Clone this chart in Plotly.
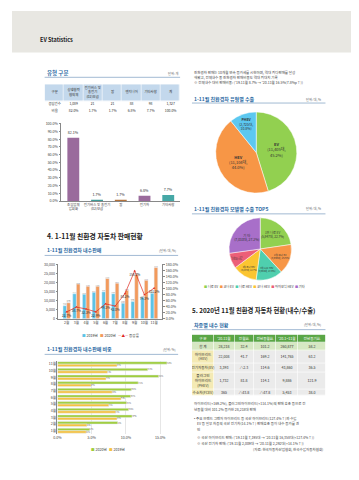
import plotly.graph_objects as go

W, H = 359, 480
FONT = "Noto Sans CJK KR"
BLUE = "#2b6aa3"
GREY = "#666666"


def X(p):
    return p / W


def Y(p):
    return 1 - p / H


# ---------------- data ----------------
type_cols = ["구분", "상생협력<br>협의체", "전기버스 및<br>충전기<br>(02)보급", "팜", "엔지니어", "기타사항", "계"]
type_names = ["조립업체<br>입회화", "전기버스 및 충전기<br>(02)보급", "팜", "전기차", "기타사항"]
type_rows = ["응답건수", "비율"]
type_counts = ["1,089", "21", "21", "88", "98", "1,327"]
type_share = [82.1, 1.7, 1.7, 6.8, 7.7]
type_share_txt = ["82.0%", "1.7%", "1.7%", "6.8%", "7.7%", "100.0%"]

months10 = ["2월", "3월", "4월", "5월", "6월", "7월", "8월", "9월", "10월", "11월"]
sales_2019 = [7169, 13771, 13500, 14552, 14850, 13800, 8570, 9448, 11800, 14025]
sales_2020 = [8799, 19100, 17860, 17881, 22170, 19602, 15700, 24400, 21158, 28218]
growth = [22.7, 38.7, 32.3, 22.9, 49.3, 42.0, 83.2, 158.1, 79.3, 101.2]

months11 = ["11월", "10월", "9월", "8월", "7월", "6월", "5월", "4월", "3월", "2월", "1월"]
share_2020 = [16.0, 13.2, 14.8, 11.8, 10.8, 10.7, 10.1, 10.4, 10.9, 8.8, 4.7]
share_2019 = [8.7, 7.3, 7.1, 4.9, 8.0, 9.3, 7.5, 8.5, 8.7, 4.3, 4.2]

export_types = ["EV", "HEV", "PHEV"]
export_units = [11405, 11104, 2725]
export_share = [45.2, 44.0, 10.8]

top_models = ["니로 EV", "코나 EV", "니로 HEV", "코나 HEV", "아이오닉 HEV", "기타"]
top_rank = ["1위 니로 EV", "2위 코나 EV", "3위 니로 HEV", "4위 코나 HEV", "5위 아이오닉 HEV", "기 타"]
top_units = [5847, 3993, 3598, 3287, 2060, 7010]
top_share = [22.7, 15.5, 13.9, 12.7, 8.0, 27.2]

tbl_head = ["구 분", "'20.11월", "전월比", "전년동월比", "'20.1~11월", "전년동기比"]
tbl_kind = ["합 계", "하이브리드<br>(HEV)", "전기자동차(EV)", "플러그인<br>하이브리드<br>(PHEV)", "수소차(FCEV)"]
tbl_month = ["28,218", "22,008", "3,393", "1,732", "365"]
tbl_mom = ["32.4", "41.7", "△2.3", "81.8", "△43.8"]
tbl_yoy = ["101.2", "169.2", "114.6", "114.1", "△47.8"]
tbl_ytd = ["260,877", "141,765", "43,860", "9,886", "5,453"]
tbl_ytd_yoy = ["58.2", "63.2", "36.5", "121.9", "38.0"]

# colors
C_TYPE = ["#9a6b9c", "#3f9b97", "#b3733c", "#9a6b9c", "#46a8a6"]
C19 = "#5cc3e6"
C20 = "#f29a5c"
C_LINE = "#e0281e"
C_G = "#9fcd3c"
C_Y = "#f5c242"
C_EXP = ["#92d050", "#f79646", "#5cc8f0"]
C_TOP = ["#92d050", "#f79646", "#4fcfae", "#fbc531", "#ec5f78", "#a86fc9"]

# layout geometry (pixels) for the tables
T1_COLS = 7
T1_ROWH = [0, 17, 24, 31]
T2_COLW = [0, 22, 43, 63, 85, 107, 135]
T2_HEADH = [0, 8]
T2_ROWH = [8, 16, 29, 38, 55, 62]

fig = go.Figure()

# ---------- type bar chart ----------
fig.add_trace(go.Bar(
    x=type_names, y=type_share, marker=dict(color=C_TYPE, line=dict(width=0)),
    text=[f"{v:.1f}%" for v in type_share], textposition="outside",
    textfont=dict(size=3.6, color="#333"), cliponaxis=False, width=0.5,
    showlegend=False, xaxis="x", yaxis="y"))

# ---------- combo chart ----------
fig.add_trace(go.Bar(
    x=months10, y=sales_2019, name="2019년", marker_color=C19,
    text=[f"{v:,}" for v in sales_2019], textposition="outside",
    textfont=dict(size=3.2, color="#333"), cliponaxis=False, showlegend=False,
    xaxis="x2", yaxis="y2"))
fig.add_trace(go.Bar(
    x=months10, y=sales_2020, name="2020년", marker_color=C20,
    text=[f"{v:,}" for v in sales_2020], textposition="outside",
    textfont=dict(size=3.2, color="#333"), cliponaxis=False, showlegend=False,
    xaxis="x2", yaxis="y2"))
fig.add_trace(go.Scatter(
    x=months10, y=growth, name="증감률", mode="lines+markers+text",
    line=dict(color=C_LINE, width=0.7), marker=dict(size=2.2, color=C_LINE, symbol="triangle-up"),
    text=[f"{v:.1f}%" for v in growth], textposition="bottom center",
    textfont=dict(size=3.2, color="#333"), cliponaxis=False, showlegend=False,
    xaxis="x2", yaxis="y3"))

# ---------- share horizontal bars ----------
fig.add_trace(go.Bar(
    y=months11, x=share_2020, name="2020년", orientation="h", marker_color=C_G,
    text=[f"{v:.1f}%" for v in share_2020], textposition="outside",
    textfont=dict(size=3.2, color="#333"), cliponaxis=False, showlegend=False,
    xaxis="x4", yaxis="y4"))
fig.add_trace(go.Bar(
    y=months11, x=share_2019, name="2019년", orientation="h", marker_color=C_Y,
    text=[f"{v:.1f}%" for v in share_2019], textposition="outside",
    textfont=dict(size=3.2, color="#333"), cliponaxis=False, showlegend=False,
    xaxis="x4", yaxis="y4"))

# ---------- export pie ----------
fig.add_trace(go.Pie(
    labels=export_types, values=export_share, sort=False, direction="clockwise", rotation=0,
    marker=dict(colors=C_EXP, line=dict(color="white", width=0.5)),
    text=[f"<b>{t}</b><br>({u:,}대,<br>{s:.1f}%)" for t, u, s in zip(export_types, export_units, export_share)],
    textinfo="text", textposition="inside", insidetextorientation="horizontal",
    textfont=dict(size=4, color="#333"), showlegend=False, hoverinfo="skip",
    domain=dict(x=[X(206), X(288)], y=[Y(184), Y(102)])))

# ---------- top5 pie ----------
fig.add_trace(go.Pie(
    labels=top_models, values=top_share, sort=False, direction="clockwise", rotation=0,
    marker=dict(colors=C_TOP, line=dict(color="white", width=0.5)),
    text=[f"{r}<br>({u:,}대, {s:.1f}%)" for r, u, s in zip(top_rank, top_units, top_share)],
    textinfo="text", textposition="inside", insidetextorientation="horizontal",
    textfont=dict(size=3.6, color="#333"), hoverinfo="skip", showlegend=False,
    domain=dict(x=[X(205), X(297)], y=[Y(272), Y(209)])))

# ---------- table 1 (heatmap cells) ----------
t1_text = [type_cols,
           [type_rows[0]] + type_counts,
           [type_rows[1]] + type_share_txt]
fig.add_trace(go.Heatmap(
    x=list(range(T1_COLS + 1)), y=T1_ROWH,
    z=[[0] * T1_COLS, [1] * T1_COLS, [1] * T1_COLS],
    text=t1_text, texttemplate="%{text}", textfont=dict(size=3.4, color="#333", family=FONT),
    colorscale=[[0, "#c3d8ec"], [0.5, "#c3d8ec"], [0.5, "#ffffff"], [1, "#ffffff"]],
    zmin=0, zmax=1, showscale=False, xgap=0.6, ygap=0.6, hoverinfo="skip",
    xaxis="x5", yaxis="y5"))

# ---------- table 2 (heatmap cells) ----------
fig.add_trace(go.Heatmap(
    x=T2_COLW, y=T2_HEADH, z=[[0] * 6], text=[tbl_head], texttemplate="%{text}",
    textfont=dict(size=3.6, color="white", family=FONT),
    colorscale=[[0, "#5aa646"], [1, "#5aa646"]], zmin=0, zmax=1, showscale=False,
    xgap=0.6, ygap=0.6, hoverinfo="skip", xaxis="x6", yaxis="y6"))
body_text = [list(r) for r in zip(tbl_kind, tbl_month, tbl_mom, tbl_yoy, tbl_ytd, tbl_ytd_yoy)]
body_z = [[0] * 6] + [[1] + [2] * 5 for _ in range(len(tbl_kind) - 1)]
fig.add_trace(go.Heatmap(
    x=T2_COLW, y=T2_ROWH, z=body_z, text=body_text, texttemplate="%{text}",
    textfont=dict(size=3.6, color="#333", family=FONT),
    colorscale=[[0, "#d6e8c3"], [0.33, "#d6e8c3"], [0.34, "#f4eab4"], [0.66, "#f4eab4"],
                [0.67, "#ebebeb"], [1, "#ebebeb"]],
    zmin=0, zmax=2, showscale=False, xgap=0.6, ygap=0.6, hoverinfo="skip",
    xaxis="x6", yaxis="y6"))

# ---------- layout ----------
ax_font = dict(size=3.6, color="#444", family=FONT)
hidden = dict(visible=False, showgrid=False, zeroline=False, fixedrange=True)
layout = dict(
    width=W, height=H, margin=dict(l=0, r=0, t=0, b=0),
    paper_bgcolor="white", plot_bgcolor="rgba(0,0,0,0)",
    font=dict(family=FONT, color="#333"),
    barmode="group", showlegend=False,
    xaxis=dict(domain=[X(50), X(170)], showline=True, linecolor="#888", linewidth=0.6,
               tickfont=dict(size=3.4, color="#444", family=FONT), ticks="", anchor="y"),
    yaxis=dict(domain=[Y(192), Y(114)], range=[0, 100], dtick=10, ticksuffix="%", tickformat=".1f",
               showline=True, linecolor="#888", linewidth=0.6, ticks="outside", ticklen=2,
               tickcolor="#888", showgrid=False, tickfont=ax_font, anchor="x"),
    xaxis2=dict(domain=[X(47), X(152)], showline=True, linecolor="#888", linewidth=0.6,
                tickfont=ax_font, anchor="y2", ticks=""),
    yaxis2=dict(domain=[Y(311), Y(256)], range=[0, 30000], dtick=5000, tickformat=",d",
                showline=True, linecolor="#888", linewidth=0.6, ticks="outside", ticklen=2,
                tickcolor="#888", showgrid=False, tickfont=ax_font, anchor="x2"),
    yaxis3=dict(overlaying="y2", side="right", range=[0, 180], dtick=20, ticksuffix="%",
                tickformat=".1f", showline=True, linecolor="#888", linewidth=0.6, ticks="outside",
                ticklen=2, tickcolor="#888", showgrid=False, tickfont=ax_font, anchor="x2"),
    xaxis4=dict(domain=[X(46), X(158)], range=[0, 16.2], tickvals=[0, 5, 10, 15],
                ticktext=["0.0%", "5.0%", "10.0%", "15.0%"], showgrid=True, gridcolor="#e6e6e6",
                gridwidth=0.5, zeroline=False, tickfont=ax_font, anchor="y4", showline=False),
    yaxis4=dict(domain=[Y(427.5), Y(353.5)], categoryorder="array", categoryarray=months11,
                autorange="reversed", showline=True, linecolor="#888", linewidth=0.6,
                tickfont=ax_font, anchor="x4", ticks=""),
    xaxis5=dict(domain=[X(33), X(170)], range=[0, T1_COLS], anchor="y5", **hidden),
    yaxis5=dict(domain=[Y(105), Y(74)], range=[T1_ROWH[-1], 0], anchor="x5", **hidden),
    xaxis6=dict(domain=[X(182), X(317)], range=[0, T2_COLW[-1]], anchor="y6", **hidden),
    yaxis6=dict(domain=[Y(389), Y(327)], range=[T2_ROWH[-1], 0], anchor="x6", **hidden),
    bargap=0.25, bargroupgap=0.0,
)
fig.update_layout(**layout)

shapes = [
    dict(type="rect", xref="paper", yref="paper", x0=0, x1=1, y0=Y(42), y1=1,
         fillcolor="#e8e7e2", line=dict(width=0), layer="below"),
]
for x0, x1, yy in [(33, 170, 67), (182, 317, 93), (182, 317, 205), (33, 168, 247),
                   (33, 168, 347), (182, 317, 322)]:
    shapes.append(dict(type="line", xref="paper", yref="paper", x0=X(x0), x1=X(x1),
                       y0=Y(yy), y1=Y(yy), line=dict(color="#7a9cc0", width=0.7)))
fig.update_layout(shapes=shapes)

anns = []


def ann(x, y, text, size=4, color="#333", xanchor="left", bold=False):
    anns.append(dict(xref="paper", yref="paper", x=X(x), y=Y(y), text=f"<b>{text}</b>" if bold else text,
                     showarrow=False, xanchor=xanchor, yanchor="middle",
                     font=dict(size=size, color=color, family=FONT)))


def sw(color, label, mark="■"):
    return f"<span style='color:{color}'>{mark}</span> {label}"


ann(26, 29, "EV Statistics", 5.5, "#222", bold=True)
ann(33, 63, "유형 구분", 5.5, BLUE, bold=True)
ann(170, 63, "단위: 개", 3.2, GREY, "right")
ann(182, 62, "친환경차 판매는 10개월 연속 증가세를 시현하며, 역대 최다판매를 달성", 3.5, "#444")
ann(182, 67, "해왔고, 전체내수 중 친환경차 판매비중도 역대 최대치 기록", 3.5, "#444")
ann(182, 72, "※ 전체내수 대비 판매비중: ('19.11월 8.7% → '20.11월 16.5%(7.8%p↑))", 3.5, "#444")
ann(182, 89, "1-11월 친환경차 유형별 수출", 5, BLUE, bold=True)
ann(315, 89, "단위: 대, %", 3.2, GREY, "right")
ann(182, 200, "1-11월 친환경차 모델별 수출 TOP5", 5, BLUE, bold=True)
ann(315, 200, "단위: 대, %", 3.2, GREY, "right")
ann(33, 227, "4. 1-11월 친환경 자동차 판매현황", 6.8, "#222", bold=True)
ann(33, 242, "1-11월 친환경차 내수판매", 5, BLUE, bold=True)
ann(168, 242, "(단위: 대, %)", 3.2, GREY, "right")
ann(33, 342, "1-11월 친환경차 내수판매 비중", 5, BLUE, bold=True)
ann(168, 342, "(단위: %)", 3.2, GREY, "right")
ann(180, 303, "5. 2020년 11월 친환경 자동차 현황(내수/수출)", 6.3, "#222", bold=True)
ann(182, 317, "차종별 내수 현황", 5, BLUE, bold=True)
ann(315, 317, "(단위: 대, %)", 3.2, GREY, "right")
ann(182, 397, "하이브리드(+169.2%), 플러그인하이브리드(+114.1%)의 판매 호조 등으로 전", 3.5, "#444")
ann(182, 403, "년동월 대비 101.2% 증가한 28,218대 판매", 3.5, "#444")
ann(182, 412, "• 주요 브랜드 그랜저 하이브리드 등 국산 하이브리드(127.4%↑)와 수입", 3.5, "#444")
ann(185, 417, "EV 등 일부 차종의 국산 전기차(14.1%↑) 판매호조 등이 내수 증가를 견", 3.5, "#444")
ann(185, 423, "인", 3.5, "#444")
ann(185, 431, "※ 국산 하이브리드 판매: ('19.11월 7,195대 → '20.11월 16,358대(+127.4%↑))", 3.5, "#444")
ann(185, 437, "※ 국산 전기차 판매: ('19.11월 2,009대 → '20.11월 2,292대(+14.1%↑))", 3.5, "#444")
ann(317, 443, "(자료: 한국자동차산업협회, 한국수입자동차협회)", 3.5, "#444", "right")

# legends (text swatches)
ann(100, 328, "   ".join([sw(C19, "2019년"), sw(C20, "2020년"), sw(C_LINE, "증감률", "—▲—")]),
    3.6, "#333", "center")
ann(97, 443, "   ".join([sw(C_G, "2020년"), sw(C_Y, "2019년")]), 3.6, "#333", "center")
ann(245, 278, "  ".join(sw(c, m) for c, m in zip(C_TOP, top_models)), 3.2, "#333", "center")

fig.update_layout(annotations=anns)

fig.write_html("out.html")
